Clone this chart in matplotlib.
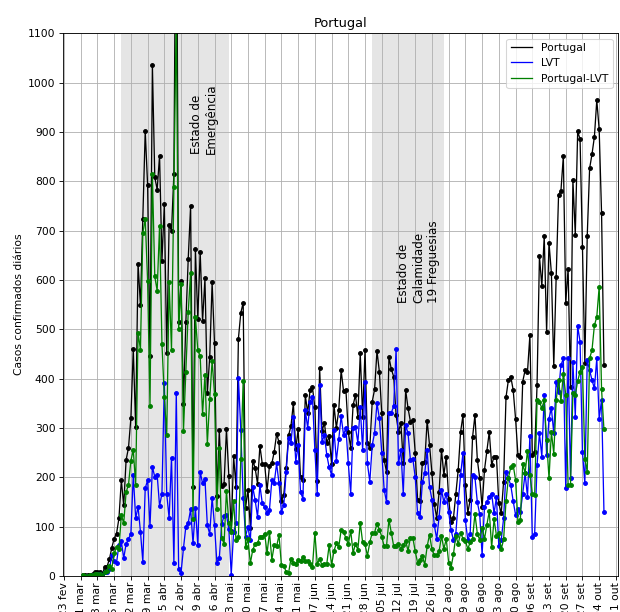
import numpy as np
import pandas as pd
import matplotlib
matplotlib.use('Agg')
import matplotlib.pyplot as plt
import matplotlib.dates as mdates
from matplotlib.ticker import FuncFormatter
from matplotlib.lines import Line2D

inicio = '2020-03-02'

portugal_mar = [2, 2, 2, 3, 4, 8, 9, 9, 2, 18, 19, 34, 57, 76, 86, 117, 194, 143, 235, 260,
                320, 460, 302, 633, 549, 724, 902, 792, 446, 1035]
portugal_abr = [808, 783, 852, 638, 754, 452, 712, 699, 815, 1516, 515, 598, 349, 514, 643,
                750, 181, 663, 521, 657, 516, 603, 371, 444, 595, 472, 163, 295, 183, 187]
portugal_mai = [297, 203, 92, 243, 180, 481, 533, 554, 138, 175, 98, 234, 219, 187, 264, 227,
                226, 173, 223, 228, 252, 288, 271, 152, 165, 219, 285, 304, 350, 257, 297]
portugal_jun = [200, 195, 366, 331, 377, 382, 342, 192, 421, 294, 310, 270, 283, 227, 346,
                300, 336, 417, 375, 377, 292, 259, 346, 367, 323, 451, 323, 458, 269, 259]
portugal_jul = [353, 378, 456, 414, 330, 235, 211, 444, 419, 404, 326, 292, 310, 230, 377, 340,
                313, 316, 250, 154, 153, 230, 232, 315, 265, 209, 145, 118, 170, 255, 205]
portugal_ago = [242, 157, 110, 117, 167, 215, 292, 326, 184, 128, 154, 281, 326, 236, 198, 140,
                215, 254, 292, 225, 242, 242, 147, 127, 191, 362, 397, 404, 377, 319, 245]
portugal_set = [242, 394, 417, 414, 488, 245, 252, 387, 648, 587, 689, 495, 675, 614, 425,
                606, 772, 781, 851, 554, 623, 382, 803, 692, 901, 885, 667, 431, 689, 826]
portugal_out = [855, 890, 964, 905, 735, 427]

lvt_mar = [0, 1, 1, 1, 2, 3, 4, 5, 1, 9, 8, 14, 42, 30, 27, 63, 70, 36, 65, 75,
           86, 205, 117, 140, 90, 29, 178, 194, 101, 221]
lvt_abr = [201, 205, 142, 167, 392, 167, 117, 240, 27, 371, 14, 7, 56, 100, 108,
           135, 66, 138, 63, 211, 188, 196, 103, 85, 159, 103, 27, 36, 105, 122]
lvt_mai = [124, 95, 3, 90, 107, 402, 296, 158, 80, 100, 72, 181, 154, 120, 184, 147,
           140, 127, 134, 195, 189, 228, 188, 130, 144, 211, 279, 269, 323, 232, 265]
lvt_jun = [170, 157, 336, 300, 353, 363, 255, 167, 387, 272, 286, 245, 220, 205, 295,
           234, 277, 324, 286, 300, 228, 167, 299, 302, 270, 343, 255, 394, 228, 191]
lvt_jul = [265, 290, 350, 320, 250, 175, 150, 330, 331, 344, 461, 228, 255, 167, 306, 289,
           235, 238, 200, 127, 120, 190, 209, 255, 181, 155, 103, 75, 120, 174, 150]
lvt_ago = [167, 130, 93, 73, 86, 150, 205, 250, 113, 73, 86, 205, 200, 150, 125, 43,
           140, 150, 161, 167, 127, 160, 60, 73, 117, 211, 198, 184, 152, 124, 135]
lvt_set = [129, 167, 208, 160, 283, 80, 86, 225, 289, 242, 367, 245, 319, 340, 289,
           394, 373, 427, 441, 178, 441, 198, 434, 323, 506, 475, 252, 188, 437, 417]
lvt_out = [397, 380, 441, 319, 357, 130]

resto_mar = [2, 1, 1, 2, 2, 5, 5, 4, 1, 9, 11, 20, 15, 46, 59, 54, 124, 107, 170, 185,
             234, 255, 185, 493, 459, 695, 724, 598, 345, 814]
resto_abr = [607, 578, 710, 471, 362, 285, 595, 459, 788, 1145, 501, 591, 293, 414, 535,
             615, 115, 525, 458, 446, 328, 407, 268, 359, 436, 369, 136, 259, 78, 65]
resto_mai = [173, 108, 89, 153, 73, 79, 237, 396, 58, 75, 26, 53, 65, 67, 80, 80,
             86, 46, 89, 33, 63, 60, 83, 22, 21, 8, 6, 35, 27, 25, 32]
resto_jun = [30, 38, 30, 31, 24, 19, 87, 25, 34, 22, 24, 25, 63, 22, 51,
             66, 59, 93, 89, 77, 64, 92, 47, 65, 53, 108, 68, 64, 41, 68]
resto_jul = [88, 88, 106, 94, 80, 60, 61, 114, 88, 60, 60, 64, 55, 63, 71, 51,
             78, 78, 50, 27, 33, 40, 23, 60, 84, 54, 42, 43, 50, 81, 55]
resto_ago = [75, 27, 17, 44, 81, 65, 87, 76, 71, 55, 68, 76, 126, 86, 73, 97,
             75, 104, 131, 58, 115, 82, 87, 54, 74, 151, 199, 220, 225, 195, 110]
resto_set = [113, 227, 209, 254, 205, 167, 164, 356, 353, 340, 356, 275, 198, 292, 248,
             356, 397, 354, 410, 367, 184, 184, 370, 367, 395, 414, 424, 238, 211, 441]
resto_out = [458, 508, 525, 586, 378, 297]

portugal = (portugal_mar + portugal_abr + portugal_mai + portugal_jun + portugal_jul
            + portugal_ago + portugal_set + portugal_out)
lvt = lvt_mar + lvt_abr + lvt_mai + lvt_jun + lvt_jul + lvt_ago + lvt_set + lvt_out
resto = (resto_mar + resto_abr + resto_mai + resto_jun + resto_jul
         + resto_ago + resto_set + resto_out)
datas = pd.date_range(inicio, periods=len(portugal), freq='D')

series = ['Portugal', 'LVT', 'Portugal-LVT']
cores = ['black', 'blue', 'green']
meses = ['jan', 'fev', 'mar', 'abr', 'mai', 'jun', 'jul', 'ago', 'set', 'out', 'nov', 'dez']
emergencia = ('2020-03-18', '2020-05-02')
calamidade = ('2020-07-01', '2020-07-31')

DPI = 77.5
fig = plt.figure(figsize=(620 / DPI, 612 / DPI), dpi=DPI)
ax = fig.add_axes([0.1016, 0.0588, 0.895, 0.887])

ax.axvspan(pd.Timestamp(emergencia[0]), pd.Timestamp(emergencia[1]), color='0.5', alpha=0.2, zorder=0, lw=0)
ax.axvspan(pd.Timestamp(calamidade[0]), pd.Timestamp(calamidade[1]), color='0.5', alpha=0.2, zorder=0, lw=0)

for valores, cor in zip([portugal, lvt, resto], cores):
    ax.plot(datas, valores, color=cor, marker='.', ms=7, lw=1.2)

ax.set_ylim(0, 1100)
ax.set_yticks(range(0, 1101, 100))
ax.set_xlim(pd.Timestamp('2020-02-22 14:00'), pd.Timestamp('2020-10-11 20:00'))
ax.xaxis.set_major_locator(mdates.WeekdayLocator(byweekday=mdates.SU))


def fmt(v, pos):
    d = mdates.num2date(v)
    return f"{d.day:02d} {meses[d.month - 1]}"


ax.xaxis.set_major_formatter(FuncFormatter(fmt))
ax.tick_params(axis='x', pad=2)
plt.setp(ax.get_xticklabels(), rotation=90)
ax.grid(True)
ax.set_title('Portugal')
ax.set_ylabel('Casos confirmados diários')

ax.text(pd.Timestamp('2020-04-21 12:00'), 855, 'Estado de\nEmergência', rotation=90,
        ha='center', va='bottom', multialignment='left', fontsize=11)
ax.text(pd.Timestamp('2020-07-20 10:00'), 553, 'Estado de\nCalamidade\n19 Freguesias', rotation=90,
        ha='center', va='bottom', multialignment='left', fontsize=11)

handles = [Line2D([], [], color=c, lw=1.2) for c in cores]
ax.legend(handles, series, loc='upper right')
fig.savefig('out.png', dpi=DPI)
